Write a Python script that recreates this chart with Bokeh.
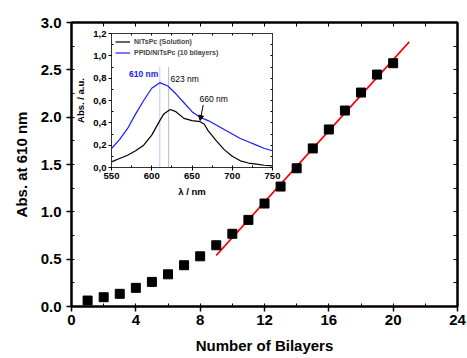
from bokeh.plotting import figure
from bokeh.models import (SingleIntervalTicker, FixedTicker, LinearAxis, Range1d, Arrow,
                          NormalHead, Label, Legend, LegendItem, CustomJSTickFormatter)
from bokeh.layouts import column
from bokeh.embed import file_html
from bokeh.resources import INLINE

# ---- main data ----
bilayers = list(range(1, 21))
abs610 = [0.063, 0.098, 0.134, 0.197, 0.26, 0.34, 0.436, 0.53, 0.647, 0.768,
          0.915, 1.088, 1.267, 1.46, 1.67, 1.87, 2.07, 2.26, 2.45, 2.57]
fit_x = [9, 21]
fit_y = [0.54, 2.795]

# ---- inset data ----
wl_sol = [550, 560, 570, 580, 590, 600, 610, 615, 623, 630, 640, 650, 660, 665,
          670, 680, 690, 700, 710, 720, 730, 740, 750]
abs_sol = [0.05, 0.08, 0.11, 0.15, 0.2, 0.29, 0.42, 0.48, 0.52, 0.5, 0.44, 0.42,
           0.41, 0.39, 0.33, 0.24, 0.16, 0.1, 0.06, 0.04, 0.03, 0.02, 0.015]
wl_film = [550, 560, 570, 580, 590, 600, 610, 620, 630, 640, 650, 660, 670, 680,
           690, 700, 710, 720, 730, 740, 750]
abs_film = [0.17, 0.25, 0.35, 0.48, 0.6, 0.71, 0.76, 0.73, 0.66, 0.58, 0.5, 0.45,
            0.42, 0.38, 0.34, 0.3, 0.26, 0.23, 0.2, 0.17, 0.15]
inset_y_ticks = [0.0, 0.2, 0.4, 0.6, 0.8, 1.0, 1.2]
inset_y_minor = [0.1, 0.3, 0.5, 0.7, 0.9, 1.1]
peak_film, peak_sol = 610, 621
marker_top = 0.9
ann_film = (590, 0.84, "610 nm")
ann_sol = (641, 0.79, "623 nm")
ann_shoulder = (677, 0.61, "660 nm")
arrow_from = (664, 0.56)
arrow_to = (660, 0.42)

FONT = "Liberation Sans"
BLANK = CustomJSTickFormatter(code="return '';")

# ---- main figure ----
p = figure(width=467, height=358, x_range=Range1d(0, 24), y_range=Range1d(0, 3),
           output_backend="svg", toolbar_location=None,
           min_border_left=71, min_border_right=10, min_border_top=22, min_border_bottom=52)
p.grid.visible = False
p.outline_line_color = "black"
p.outline_line_width = 2

p.xaxis.ticker = SingleIntervalTicker(interval=4, num_minor_ticks=2)
p.yaxis.ticker = SingleIntervalTicker(interval=0.5, num_minor_ticks=2)
p.yaxis.formatter = CustomJSTickFormatter(code="return tick.toFixed(1);")
for ax in (p.xaxis[0], p.yaxis[0]):
    ax.axis_line_width = 2
    ax.major_tick_line_width = 1.5
    ax.major_tick_out = 5
    ax.major_tick_in = 0
    ax.minor_tick_out = 0
    ax.minor_tick_in = 3
    ax.major_label_text_font = FONT
    ax.major_label_text_font_style = "bold"
    ax.major_label_text_font_size = "15px"
    ax.major_label_text_color = "black"
    ax.axis_label_text_font = FONT
    ax.axis_label_text_font_style = "bold"
    ax.axis_label_text_font_size = "15px"
    ax.axis_label_text_color = "black"
p.xaxis.axis_label = "Number of Bilayers"
p.yaxis.axis_label = "Abs. at 610 nm"
p.xaxis.major_label_standoff = 3
p.yaxis.major_label_standoff = 5
p.xaxis.axis_label_standoff = 9
p.yaxis.axis_label_standoff = 8

top_ax = LinearAxis(ticker=SingleIntervalTicker(interval=2, num_minor_ticks=2),
                    formatter=BLANK, major_label_standoff=0,
                    major_tick_in=4, major_tick_out=0, minor_tick_in=0, minor_tick_out=0,
                    axis_line_width=2)
right_ax = LinearAxis(ticker=SingleIntervalTicker(interval=0.25, num_minor_ticks=2),
                      formatter=BLANK, major_label_standoff=0,
                      major_tick_in=4, major_tick_out=0, minor_tick_in=0, minor_tick_out=0,
                      axis_line_width=2)
p.add_layout(top_ax, "above")
p.add_layout(right_ax, "right")

p.line(fit_x, fit_y, line_color="red", line_width=1.6)
p.scatter(bilayers, abs610, marker="square", size=9, color="black")

# ---- inset figure ----
ins = figure(width=242, height=180, x_range=Range1d(550, 750), y_range=Range1d(0, 1.2),
             output_backend="svg", toolbar_location=None,
             min_border_left=71, min_border_right=10, min_border_top=10, min_border_bottom=36,
             background_fill_alpha=0, border_fill_alpha=0)
ins.grid.visible = False
ins.outline_line_color = "#333333"
ins.outline_line_width = 1
ins.xaxis.ticker = SingleIntervalTicker(interval=50, num_minor_ticks=2)
ins.yaxis.ticker = FixedTicker(ticks=inset_y_ticks, minor_ticks=inset_y_minor)
ins.yaxis.formatter = CustomJSTickFormatter(code="return tick.toFixed(1).replace('.', ',');")
for ax in (ins.xaxis[0], ins.yaxis[0]):
    ax.axis_line_color = "#333333"
    ax.major_tick_out = 3
    ax.major_tick_in = 0
    ax.minor_tick_out = 0
    ax.minor_tick_in = 2
    ax.major_label_text_font = FONT
    ax.major_label_text_font_style = "bold"
    ax.major_label_text_font_size = "9.5px"
    ax.major_label_text_color = "black"
    ax.major_label_standoff = 2
    ax.axis_label_text_font = FONT
    ax.axis_label_text_font_style = "bold"
    ax.axis_label_text_font_size = "9.5px"
    ax.axis_label_text_color = "black"
    ax.axis_label_standoff = 4
ins.xaxis.axis_label = "λ / nm"
ins.yaxis.axis_label = "Abs. / a.u."
ins_top = LinearAxis(ticker=SingleIntervalTicker(interval=25, num_minor_ticks=1),
                     formatter=BLANK, major_label_standoff=0,
                     major_tick_in=2, major_tick_out=0, minor_tick_in=0, minor_tick_out=0,
                     axis_line_color="#333333")
ins_right = LinearAxis(ticker=SingleIntervalTicker(interval=0.1, num_minor_ticks=1),
                       formatter=BLANK, major_label_standoff=0,
                       major_tick_in=2, major_tick_out=0, minor_tick_in=0, minor_tick_out=0,
                       axis_line_color="#333333")
ins.add_layout(ins_top, "above")
ins.add_layout(ins_right, "right")

ins.segment([peak_film], [0], [peak_film], [marker_top], line_color="#8888ff",
            line_dash="1 1", line_width=1)
ins.segment([peak_sol], [0], [peak_sol], [marker_top], line_color="#777777",
            line_dash="1 1", line_width=1)
r_sol = ins.line(wl_sol, abs_sol, line_color="black", line_width=1.2)
r_film = ins.line(wl_film, abs_film, line_color="#1a1aff", line_width=1.2)

leg = Legend(items=[LegendItem(label="NiTsPc (Solution)", renderers=[r_sol]),
                    LegendItem(label="PPID/NiTsPc (10 bilayers)", renderers=[r_film])],
             location="top_left", border_line_alpha=0, background_fill_alpha=0,
             label_text_font=FONT, label_text_font_size="7px", label_text_font_style="bold",
             glyph_width=15, glyph_height=9, label_height=9, spacing=2, padding=2, margin=2,
             label_standoff=4)
ins.add_layout(leg)

ins.add_layout(Label(x=ann_film[0], y=ann_film[1], text=ann_film[2], text_align="center",
                     text_baseline="middle", text_font=FONT, text_font_style="bold",
                     text_font_size="8.5px", text_color="#1a1aff"))
ins.add_layout(Label(x=ann_sol[0], y=ann_sol[1], text=ann_sol[2], text_align="center",
                     text_baseline="middle", text_font=FONT, text_font_size="8.5px",
                     text_color="black"))
ins.add_layout(Label(x=ann_shoulder[0], y=ann_shoulder[1], text=ann_shoulder[2],
                     text_align="center", text_baseline="middle", text_font=FONT,
                     text_font_size="8.5px", text_color="black"))
ins.add_layout(Arrow(x_start=arrow_from[0], y_start=arrow_from[1], x_end=arrow_to[0],
                     y_end=arrow_to[1], line_color="black", line_width=1,
                     end=NormalHead(size=5, fill_color="black", line_color="black")))

ins.styles = {"position": "absolute", "left": "40px", "top": "23px", "z-index": "10"}

layout = column(p, ins)
open("out.html", "w").write(file_html(layout, INLINE))
